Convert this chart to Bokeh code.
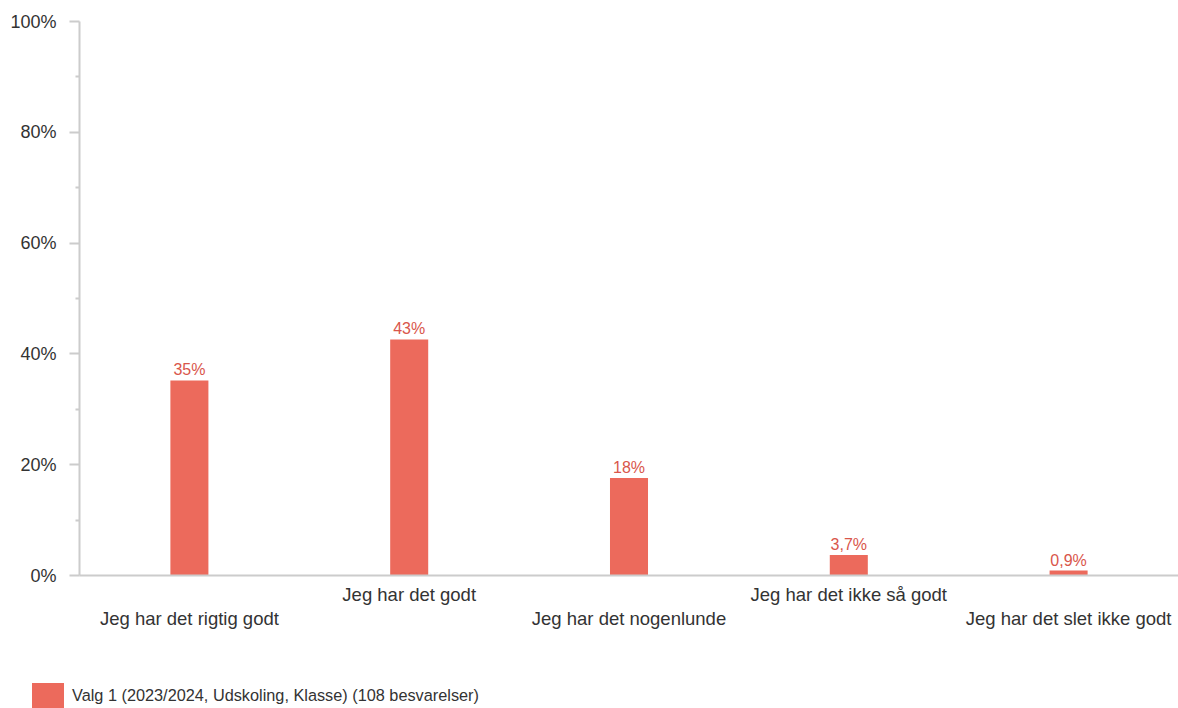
from bokeh.plotting import figure
from bokeh.layouts import column
from bokeh.models import (ColumnDataSource, Range1d, LabelSet, LinearAxis,
                          PrintfTickFormatter, FixedTicker, Div)
from bokeh.core.properties import value
from bokeh.embed import file_html
from bokeh.resources import INLINE

categories = ["Jeg har det rigtig godt", "Jeg har det godt", "Jeg har det nogenlunde",
              "Jeg har det ikke så godt", "Jeg har det slet ikke godt"]
values = [35.2, 42.6, 17.6, 3.7, 0.9]
series_name = "Valg 1 (2023/2024, Udskoling, Klasse) (108 besvarelser)"
y_ticks = [0, 20, 40, 60, 80, 100]
y_minor = [10, 30, 50, 70, 90]

BAR = "#EC6A5C"
LBL = "#D9564B"
TXT = "#333333"
AX = "#cccccc"
FONT = "Liberation Sans"


def fmt(v):
    if v >= 10:
        return f"{round(v):d}%"
    return f"{v:.1f}".replace(".", ",") + "%"


idx = list(range(len(categories)))
src = ColumnDataSource(dict(x=idx, val=values, lbl=[fmt(v) for v in values]))

p = figure(width=1178, height=660, x_range=Range1d(-0.5, len(categories) - 0.5),
           y_range=Range1d(0, 100), output_backend="svg", toolbar_location=None,
           min_border_left=79, min_border_right=0, min_border_top=21, min_border_bottom=85)
p.outline_line_color = None
p.xgrid.visible = False
p.ygrid.visible = False

bars = p.vbar(x="x", top="val", width=0.173, source=src, fill_color=BAR, line_color=None)

# y axis
ya = p.yaxis[0]
ya.ticker = FixedTicker(ticks=y_ticks, minor_ticks=y_minor)
ya.formatter = PrintfTickFormatter(format="%d%%")
ya.axis_line_color = AX
ya.axis_line_width = 2
ya.major_tick_line_color = AX
ya.major_tick_line_width = 2
ya.major_tick_out = 10
ya.major_tick_in = 0
ya.minor_tick_line_color = AX
ya.minor_tick_line_width = 2
ya.minor_tick_out = 4
ya.minor_tick_in = 0
ya.major_label_text_font = FONT
ya.major_label_text_font_size = "18px"
ya.major_label_text_color = TXT
ya.major_label_standoff = 13

# x axes: staggered category labels
upper = [i for i in idx if i % 2 == 1]
lower = [i for i in idx if i % 2 == 0]


def style_x(ax, ticks, standoff):
    ax.ticker = FixedTicker(ticks=ticks)
    ax.major_label_overrides = {i: categories[i] for i in ticks}
    ax.major_tick_line_color = None
    ax.minor_tick_line_color = None
    ax.major_tick_out = 0
    ax.major_tick_in = 0
    ax.major_label_standoff = standoff
    ax.major_label_text_font = FONT
    ax.major_label_text_font_size = "18.5px"
    ax.major_label_text_color = TXT


xa = p.xaxis[0]
style_x(xa, upper, 8)
xa.axis_line_color = AX
xa.axis_line_width = 2

xa2 = LinearAxis()
style_x(xa2, lower, 0)
xa2.axis_line_color = None
p.add_layout(xa2, "below")

# value labels
p.add_layout(LabelSet(x="x", y="val", text="lbl", source=src, y_offset=5,
                      text_align="center", text_baseline="alphabetic",
                      text_font=value(FONT), text_font_size="16px", text_color=LBL))

# legend strip
legend_html = (
    f'<div style="position:relative;width:1178px;height:48px;'
    f'font-family:\'{FONT}\';font-size:16.3px;color:{TXT};">'
    f'<div style="position:absolute;left:32px;top:23px;width:32px;height:25px;'
    f'background:{BAR};"></div>'
    f'<div style="position:absolute;left:72px;top:25px;line-height:20px;'
    f'white-space:nowrap;">{series_name}</div></div>'
)
legend_div = Div(text=legend_html, width=1178, height=48, margin=0)

layout = column(p, legend_div, spacing=0)
open("out.html", "w").write(file_html(layout, INLINE))
